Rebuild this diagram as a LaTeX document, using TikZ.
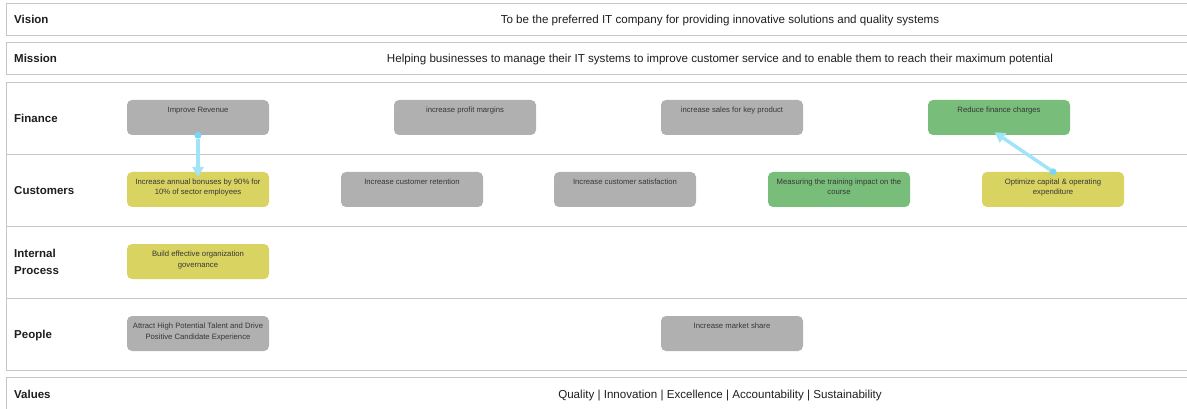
\documentclass[tikz,border=0pt]{standalone}
\usepackage{fontspec}
\setmainfont{Liberation Sans}
\usetikzlibrary{arrows.meta, positioning}
\usepackage{xcolor}

\definecolor{frame}{RGB}{198,198,198}
\definecolor{labeltext}{RGB}{30,30,30}
\definecolor{goaltext}{RGB}{55,55,55}
\definecolor{goalgrey}{RGB}{176,176,176}
\definecolor{goalyellow}{RGB}{217,211,98}
\definecolor{goalgreen}{RGB}{121,189,122}
\definecolor{linkcyan}{RGB}{160,228,247}
\definecolor{linkdot}{RGB}{120,215,245}

% no word splitting inside the goal boxes
\hyphenpenalty=10000
\exhyphenpenalty=10000

\begin{document}
\begin{tikzpicture}[x=1pt, y=-1pt,
  lane/.style={draw=frame, line width=0.9pt},
  lanelabel/.style={anchor=base west, inner xsep=0pt, text width=90pt, align=left,
    text=labeltext, font=\fontsize{11.5}{17}\selectfont\bfseries},
  headtext/.style={anchor=base, text=labeltext, font=\fontsize{11.6}{14}\selectfont},
  goal/.style={rounded corners=5pt, minimum width=142pt, minimum height=35pt,
    inner xsep=5pt, inner ysep=3pt, text width=132pt, align=flush center,
    text height=9.5pt, text depth=19.5pt, text=goaltext,
    font=\fontsize{7.7}{10.5}\selectfont},
  greygoal/.style={goal, fill=goalgrey},
  yellowgoal/.style={goal, fill=goalyellow},
  greengoal/.style={goal, fill=goalgreen},
  link/.style={draw=linkcyan, line width=3.5pt, shorten <=-3.5pt, shorten >=-5pt,
    {Circle[length=7pt, line width=0pt, color=linkdot]}-{Triangle[width=12pt, length=10pt, line width=0pt]}}
]
  \useasboundingbox (0,0) rectangle (1187,409);

  % frames
  \draw[lane] (6,3) rectangle (1200,35);
  \draw[lane] (6,42) rectangle (1200,74);
  \draw[lane] (6,82) rectangle (1200,370);
  \draw[lane] (6,154) -- (1200,154);
  \draw[lane] (6,226) -- (1200,226);
  \draw[lane] (6,298) -- (1200,298);
  \draw[lane] (6,377) rectangle (1200,420);

  % headings
  \node[lanelabel] (vision) at (14,23.5) {Vision};
  \node[headtext] (visiontxt) at (720,23.5) {To be the preferred IT company for providing innovative solutions and quality systems};
  \node[lanelabel] (mission) at (14,63) {Mission};
  \node[headtext] (missiontxt) at (720,63) {Helping businesses to manage their IT systems to improve customer service and to enable them to reach their maximum potential};
  \node[lanelabel] (values) at (14,398.5) {Values};
  \node[headtext] (valuestxt) at (720,398.5) {Quality | Innovation | Excellence | Accountability | Sustainability};

  % lanes
  \node[lanelabel] (finance) at (14,122.5) {Finance};
  \node[lanelabel] (customers) at (14,194.5) {Customers};
  \node[lanelabel] (internal) at (14,257.5) {Internal\\Process};
  \node[lanelabel] (people) at (14,338.5) {People};

  % finance
  \node[greygoal] (revenue) at (198,117.5) {Improve Revenue};
  \node[greygoal] (margins) at (465,117.5) {increase profit margins};
  \node[greygoal] (sales) at (732,117.5) {increase sales for key product};
  \node[greengoal] (charges) at (999,117.5) {Reduce finance charges};

  % customers
  \node[yellowgoal] (bonuses) at (198,189.5) {Increase annual bonuses by 90\% for 10\% of sector employees};
  \node[greygoal] (retention) at (412,189.5) {Increase customer retention};
  \node[greygoal] (satisfaction) at (625,189.5) {Increase customer satisfaction};
  \node[greengoal] (training) at (839,189.5) {Measuring the training impact on the course};
  \node[yellowgoal] (opex) at (1053,189.5) {Optimize capital \& operating expenditure};

  % internal process
  \node[yellowgoal] (governance) at (198,261.5) {Build effective organization governance};

  % people
  \node[greygoal] (talent) at (198,333.5) {Attract High Potential Talent and Drive Positive Candidate Experience};
  \node[greygoal] (market) at (732,333.5) {Increase market share};

  % links
  \draw[link] (revenue.south) -- (bonuses.north);
  \draw[link] (opex.north) -- (charges.south);
\end{tikzpicture}
\end{document}
